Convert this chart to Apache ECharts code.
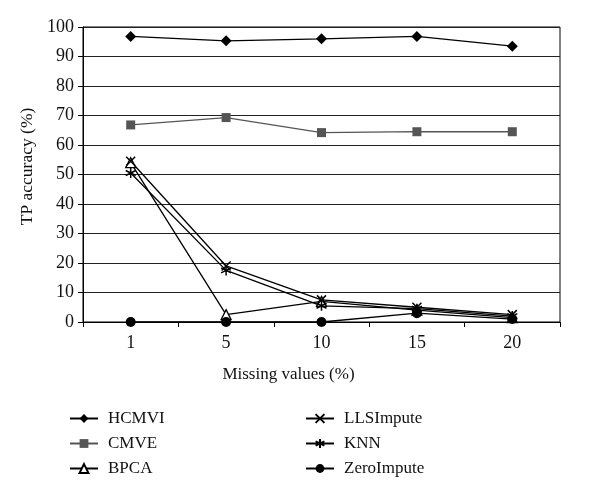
<!DOCTYPE html>
<html><head><meta charset="utf-8">
<script src="https://cdn.jsdelivr.net/npm/echarts@6/dist/echarts.min.js"></script>
<style>html,body{margin:0;padding:0;background:#fff}#c{width:600px;height:499px}</style>
</head><body><div id="c"></div>
<script>
const categories = ['1', '5', '10', '15', '20'];
const hcmvi = [96.8, 95.3, 96.0, 96.8, 93.5];
const cmve = [66.8, 69.3, 64.2, 64.5, 64.5];
const bpca = [54.0, 2.5, 7.0, 4.0, 1.5];
const llsimpute = [54.5, 19.0, 7.5, 5.0, 2.5];
const knn = [50.5, 17.5, 5.5, 4.5, 2.0];
const zeroimpute = [0, 0, 0, 3.0, 1.0];

const FONT = '"Liberation Serif", "DejaVu Serif", serif';
const chart = echarts.init(document.getElementById('c'), null, {renderer: 'canvas'});

function mk(name, data, symbol, size, color, lineColor, extraItem) {
  return {
    name: name, type: 'line', data: data, symbol: symbol, symbolSize: size,
    showAllSymbol: true, animation: false,
    lineStyle: {color: lineColor || '#000', width: 1.3},
    itemStyle: Object.assign({color: color}, extraItem || {}),
    emphasis: {disabled: true}
  };
}
const xPath = 'path://M0,0L10,10M10,0L0,10';
const starPath = 'path://M5,0L5,10M0.7,2.5L9.3,7.5M0.7,7.5L9.3,2.5';

chart.setOption({
  animation: false,
  textStyle: {fontFamily: FONT},
  grid: {left: 83, right: 40, top: 27, bottom: 177, show: true, borderColor: '#000', borderWidth: 1},
  xAxis: {
    type: 'category', data: categories, boundaryGap: true,
    axisLine: {lineStyle: {color: '#000', width: 1}},
    axisTick: {show: true, length: 5, lineStyle: {color: '#000'}},
    axisLabel: {color: '#111', fontSize: 18, fontFamily: FONT, margin: 12},
    name: 'Missing values (%)', nameLocation: 'middle', nameGap: 44,
    nameTextStyle: {color: '#111', fontSize: 17, fontFamily: FONT, padding: [0, 66, 0, 0]}
  },
  yAxis: {
    type: 'value', min: 0, max: 100, interval: 10,
    axisLine: {show: true, lineStyle: {color: '#000', width: 1}},
    axisTick: {show: true, length: 5, lineStyle: {color: '#000'}},
    axisLabel: {color: '#111', fontSize: 18, fontFamily: FONT, margin: 9},
    splitLine: {lineStyle: {color: '#222', width: 1}},
    name: 'TP accuracy (%)', nameLocation: 'middle', nameGap: 40, nameRotate: 90,
    nameTextStyle: {color: '#111', fontSize: 17.5, fontFamily: FONT, padding: [0, 0, 0, 16]}
  },
  legend: [
    {data: ['HCMVI', 'CMVE', 'BPCA'], orient: 'vertical', left: 69, top: 410, itemGap: 8, padding: 0,
     itemWidth: 28, itemHeight: 11, textStyle: {fontSize: 17, color: '#111', fontFamily: FONT, padding: [0,0,0,5]}},
    {data: ['LLSImpute', 'KNN', 'ZeroImpute'], orient: 'vertical', left: 305, top: 410, itemGap: 8, padding: 0,
     itemWidth: 28, itemHeight: 11, textStyle: {fontSize: 17, color: '#111', fontFamily: FONT, padding: [0,0,0,5]}}
  ],
  series: [
    mk('HCMVI', hcmvi, 'diamond', 11, '#000'),
    mk('CMVE', cmve, 'rect', 9, '#555', '#555'),
    mk('BPCA', bpca, 'triangle', 10, '#fff', '#000', {borderColor: '#000', borderWidth: 1.3}),
    mk('LLSImpute', llsimpute, xPath, 9, '#000', '#000', {borderColor: '#000', borderWidth: 1.5}),
    mk('KNN', knn, starPath, 10, '#000', '#000', {borderColor: '#000', borderWidth: 1.5}),
    mk('ZeroImpute', zeroimpute, 'circle', 10, '#000')
  ]
});
</script></body></html>
